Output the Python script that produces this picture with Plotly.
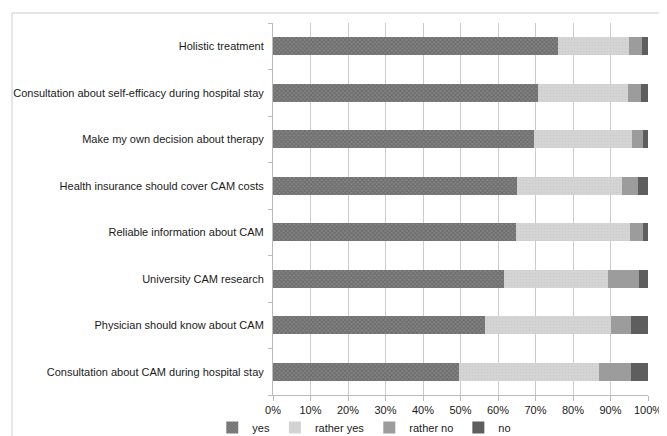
import plotly.graph_objects as go

categories = [
    "Holistic treatment",
    "Consultation about self-efficacy during hospital stay",
    "Make my own decision about therapy",
    "Health insurance should cover CAM costs",
    "Reliable information about CAM",
    "University CAM research",
    "Physician should know about CAM",
    "Consultation about CAM during hospital stay",
]
yes = [76.1, 70.6, 69.7, 65.1, 64.7, 61.5, 56.6, 49.5]
rather_yes = [18.9, 24.1, 26.0, 27.9, 30.4, 27.7, 33.6, 37.4]
rather_no = [3.3, 3.4, 3.0, 4.3, 3.5, 8.3, 5.3, 8.6]
no = [1.7, 1.9, 1.3, 2.7, 1.4, 2.5, 4.5, 4.5]

series_names = ["yes", "rather yes", "rather no", "no"]
series_values = [yes, rather_yes, rather_no, no]
colors = ["#848484", "#d6d6d6", "#9c9c9c", "#5e5e5e"]
patterns = [
    dict(shape="x", fgcolor="#505050", size=3, solidity=0.5),
    dict(shape=".", fgcolor="#c4c4c4", size=3, solidity=0.4),
    None,
    None,
]

fig = go.Figure()
for name, vals, col, pat in zip(series_names, series_values, colors, patterns):
    marker = dict(color=col, line=dict(width=0))
    if pat is not None:
        marker["pattern"] = pat
    fig.add_trace(go.Bar(
        y=categories, x=vals, name=name, orientation="h",
        marker=marker,
    ))

font = "Liberation Sans, Arial, sans-serif"
fig.update_layout(
    barmode="stack",
    bargap=0.61,
    width=659, height=428,
    margin=dict(l=265, r=19, t=15, b=41, autoexpand=False),
    plot_bgcolor="white", paper_bgcolor="white",
    font=dict(family=font, size=11, color="#1a1a1a"),
    showlegend=True,
    legend=dict(
        orientation="h", traceorder="normal",
        xref="container", yref="container",
        x=0.31, xanchor="left", y=0.02, yanchor="middle",
        font=dict(size=11, color="#1a1a1a"), itemwidth=30,
        tracegroupgap=0,
        bgcolor="rgba(0,0,0,0)",
    ),
    xaxis=dict(
        range=[0, 100], dtick=10, tick0=0, ticksuffix="%",
        showgrid=True, gridcolor="#cccccc", gridwidth=1,
        showline=True, linecolor="#bbbbbb", linewidth=1,
        ticks="outside", ticklen=5, tickcolor="#bbbbbb",
        zeroline=False, fixedrange=True,
        tickfont=dict(size=11, color="#1a1a1a"),
    ),
    yaxis=dict(
        categoryorder="array", categoryarray=categories[::-1],
        showgrid=False, showline=True, linecolor="#bbbbbb", linewidth=1,
        ticks="outside", ticklen=4, tickcolor="#bbbbbb",
        tickson="boundaries", ticklabelstandoff=6,
        tickfont=dict(size=11, color="#1a1a1a"),
    ),
    shapes=[
        dict(type="line", xref="paper", yref="paper",
             x0=-0.696, x1=1.06, y0=1.027, y1=1.027,
             line=dict(color="#cccccc", width=1)),
        dict(type="line", xref="paper", yref="paper",
             x0=-0.696, x1=-0.696, y0=1.027, y1=-0.12,
             line=dict(color="#cccccc", width=1)),
    ],
)

fig.write_html("out.html")
